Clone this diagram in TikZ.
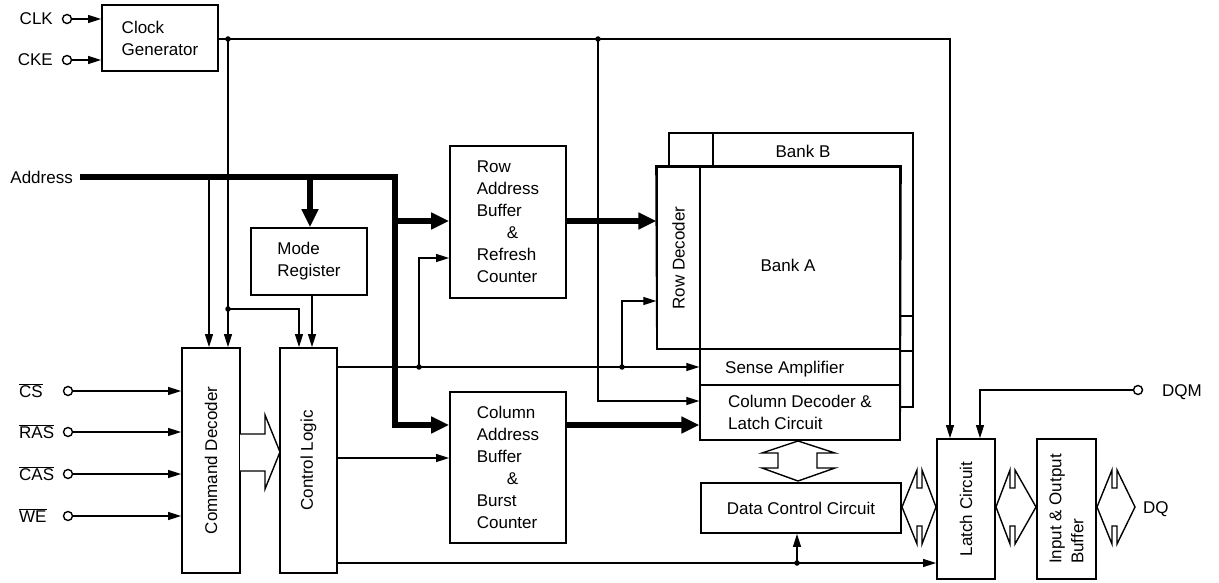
\documentclass[tikz,border=0pt]{standalone}
\usepackage{fontspec}
\setmainfont{Liberation Sans}
\usetikzlibrary{arrows.meta,calc}
\begin{document}
\begin{tikzpicture}[x=1pt,y=-1pt,
  font=\fontsize{17}{22}\selectfont,
  box/.style={draw, line width=1.8pt, fill=white, inner sep=0pt, align=left},
  ibox/.style={draw, line width=1.3pt, fill=white, inner sep=0pt, align=left},
  lbl/.style={inner sep=0pt, align=left},
  conn/.style={line width=1.1pt},
  arr/.style={conn, -{Triangle[length=13pt,width=8pt]}},
  bus/.style={line width=6pt, line join=miter},
  busarr/.style={bus, -{Triangle[length=18pt,width=16pt]}},
  pinc/.style={circle, draw, line width=1.4pt, fill=white, inner sep=0pt, minimum size=9pt},
  dot/.style={circle, fill=black, inner sep=0pt, minimum size=5.5pt},
  hollow/.style={draw, line width=1.4pt, fill=white, line join=miter},
]
\useasboundingbox (0,0) rectangle (1219,583);

% ---------- blocks ----------
\node[box, minimum width=116pt, minimum height=66pt] (clkgen) at (160,38) {Clock\\Generator};
\node[box, minimum width=116pt, minimum height=67pt] (modereg) at (309,261.5) {Mode\\Register};
\node[box, minimum width=116pt, minimum height=152pt] (rowbuf) at (508,222) {Row\\Address\\Buffer\\\hspace*{30pt}\&\\Refresh\\Counter};
\node[box, minimum width=116pt, minimum height=151pt] (colbuf) at (508,467.5) {Column\\Address\\Buffer\\\hspace*{30pt}\&\\Burst\\Counter};
\node[box, minimum width=58pt, minimum height=225pt] (cmd) at (211,460.5) {};
\node[lbl, rotate=90] (cmdt) at (cmd.center) {Command Decoder};
\node[box, minimum width=57pt, minimum height=225pt] (ctrl) at (308.5,460.5) {};
\node[lbl, rotate=90] (ctrlt) at (ctrl.center) {Control Logic};

% Bank B (behind): only the top strip and right strip show
\draw[line width=1.8pt, line join=miter] (669,167) -- (669,133) -- (913,133) -- (913,407) -- (900,407);
\draw[line width=1.3pt] (713,133) -- (713,167);
\draw[line width=1.3pt] (900,316) -- (913,316);
\draw[line width=1.3pt] (900,351) -- (913,351);
\node[lbl] (bankBt) at (803,151) {Bank B};

% Bank A
\node[box, minimum width=243pt, minimum height=182pt] (bankA) at (778.5,258) {};
\node[ibox, minimum width=43pt, minimum height=182pt] (rowdec) at (678.5,258) {};
\node[lbl, rotate=90] (rowdect) at (rowdec.center) {Row Decoder};
\node[lbl] (bankAt) at (788,265) {Bank A};
\node[ibox, minimum width=200pt, minimum height=36pt] (sense) at (800,367) {};
\node[lbl, anchor=base west] (senset) at (725,373) {Sense Amplifier};
\node[ibox, minimum width=200pt, minimum height=55pt] (coldec) at (800,412.5) {Column Decoder \&\\Latch Circuit};
\draw[line width=1.8pt, line join=miter] (bankA.north west) -- (bankA.north east) -- (900,440) -- (700,440) -- (700,349) -- (657,349) -- cycle;

\node[box, minimum width=200pt, minimum height=50pt] (datactl) at (801,508) {Data Control Circuit};
\node[box, minimum width=58pt, minimum height=140pt] (latch) at (966,509) {};
\node[lbl, rotate=90] (latcht) at (latch.center) {Latch Circuit};
\node[box, minimum width=59pt, minimum height=140pt] (iobuf) at (1066.5,509) {};
\node[lbl, rotate=90, align=left] (iobuft) at (iobuf.center) {Input \& Output\\Buffer};

% ---------- pins and labels ----------
\node[pinc] (clkp) at (67,19) {};
\node[pinc] (ckep) at (67,60) {};
\node[lbl, anchor=base east] (clkl) at (53,25) {CLK};
\node[lbl, anchor=base east] (ckel) at (53,66) {CKE};
\node[lbl, anchor=base east] (addrl) at (73,183) {Address};

\node[pinc] (csp) at (68,391) {};
\node[pinc] (rasp) at (68,432) {};
\node[pinc] (casp) at (68,474) {};
\node[pinc] (wep) at (68,516) {};
\node[lbl, anchor=base west] (csl) at (19,397) {$\overline{\mbox{CS}}$};
\node[lbl, anchor=base west] (rasl) at (19,438) {$\overline{\mbox{RAS}}$};
\node[lbl, anchor=base west] (casl) at (19,480) {$\overline{\mbox{CAS}}$};
\node[lbl, anchor=base west] (wel) at (19,522) {$\overline{\mbox{WE}}$};

\node[pinc] (dqmp) at (1138,390) {};
\node[lbl, anchor=base west] (dqml) at (1162,396) {DQM};
\node[lbl, anchor=base west] (dql) at (1143,513) {DQ};

% ---------- thin connectors ----------
\draw[arr] (clkp.east) -- (clkgen.west |- clkp.east);
\draw[arr] (ckep.east) -- (clkgen.west |- ckep.east);
\draw[arr] (csp.east) -- (cmd.west |- csp.east);
\draw[arr] (rasp.east) -- (cmd.west |- rasp.east);
\draw[arr] (casp.east) -- (cmd.west |- casp.east);
\draw[arr] (wep.east) -- (cmd.west |- wep.east);

\node[dot] (d1) at (228,39) {};
\node[dot] (d2) at (598,39) {};
\node[dot] (d3) at (228,309) {};
\draw[arr] (clkgen.east |- 0,39) -| (latch.north -| 950,0);
\draw[arr] (d1.center) -- (cmd.north -| 228,0);
\draw[arr] (d3.center) -| (ctrl.north -| 299,0);
\draw[arr] (modereg.south -| 312,0) -- (ctrl.north -| 312,0);
\draw[arr] (209,177) -- (cmd.north -| 209,0);
\draw[arr] (d2.center) |- (coldec.west |- 0,401);

\node[dot] (d4) at (419,367) {};
\node[dot] (d5) at (622,367) {};
\draw[arr] (ctrl.east |- 0,367) -- (sense.west |- 0,367);
\draw[arr] (d4.center) |- (rowbuf.west |- 0,258);
\draw[arr] (d5.center) |- (rowdec.west |- 0,301);
\draw[arr] (ctrl.east |- 0,458) -- (colbuf.west |- 0,458);
\node[dot] (d6) at (797,563) {};
\draw[arr] (ctrl.east |- 0,563) -- (latch.west |- 0,563);
\draw[arr] (d6.center) -- (datactl.south -| 797,0);
\draw[arr] (dqmp.west) -| (latch.north -| 980,0);

% ---------- address bus ----------
\coordinate (busstart) at (80,177);
\draw[busarr] (busstart) -| (395,425) -- (colbuf.west |- 0,425);
\draw[busarr] (395,221) -- (rowbuf.west |- 0,221);
\draw[busarr] (310,177) -- (modereg.north -| 310,0);
\draw[busarr] (rowbuf.east |- 0,221) -- (rowdec.west |- 0,221);
\draw[busarr] (colbuf.east |- 0,425) -- (coldec.west |- 0,425);

% ---------- hollow arrows ----------
\draw[hollow] (240,434) -- (265,434) -- (265,415) -- (280,452) -- (265,489) -- (265,471) -- (240,471);
\draw[hollow] (798,441) -- (835,453) -- (817,453) -- (817,468) -- (835,468) -- (798,481)
  -- (762,468) -- (778,468) -- (778,453) -- (762,453) -- cycle;
\draw[hollow] (902,507) -- (917,470) -- (917,488) -- (922,488) -- (922,470) -- (936,507)
  -- (922,544) -- (922,526) -- (917,526) -- (917,544) -- cycle;
\draw[hollow] (996,507) -- (1010,470) -- (1010,488) -- (1015,488) -- (1015,470) -- (1036,507)
  -- (1015,544) -- (1015,526) -- (1010,526) -- (1010,544) -- cycle;
\draw[hollow] (1097,507) -- (1112,470) -- (1112,488) -- (1117,488) -- (1117,470) -- (1135,507)
  -- (1117,544) -- (1117,526) -- (1112,526) -- (1112,544) -- cycle;
\end{tikzpicture}
\end{document}
